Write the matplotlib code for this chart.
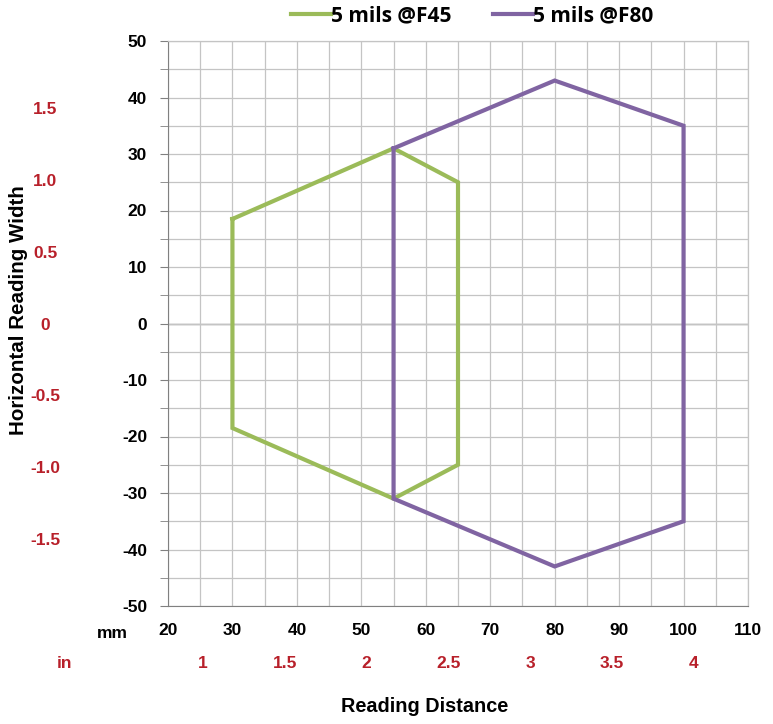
import matplotlib
matplotlib.use("Agg")
import matplotlib.pyplot as plt
from matplotlib.lines import Line2D

plt.rcParams["axes.unicode_minus"] = False

# Data (mm)
f45_x = [30, 55, 65, 65, 55, 30, 30]
f45_y = [18.5, 31, 25, -25, -31, -18.5, 18.5]
f80_x = [55, 80, 100, 100, 80, 55, 55]
f80_y = [31, 43, 35, -35, -43, -31, 31]
series_names = ["5 mils @F45", "5 mils @F80"]
x_ticks_mm = [20, 30, 40, 50, 60, 70, 80, 90, 100, 110]
y_ticks_mm = [-50, -40, -30, -20, -10, 0, 10, 20, 30, 40, 50]
x_ticks_in = [1, 1.5, 2, 2.5, 3, 3.5, 4]
x_ticks_in_labels = ["1", "1.5", "2", "2.5", "3", "3.5", "4"]
y_ticks_in = [-1.5, -1.0, -0.5, 0, 0.5, 1.0, 1.5]
y_ticks_in_labels = ["-1.5", "-1.0", "-0.5", "0", "0.5", "1.0", "1.5"]

GREEN = "#9BBB59"
PURPLE = "#8064A2"
RED = "#B8202A"
FONT = "Liberation Sans"
TS = 12.5

fig = plt.figure(figsize=(7.73, 7.24), dpi=100)
ax = fig.add_axes([168/773, 1-606/724, 580/773, 565/724])

ax.plot(f45_x, f45_y, color=GREEN, lw=3, solid_joinstyle="miter", zorder=3)
ax.plot(f80_x, f80_y, color=PURPLE, lw=3, solid_joinstyle="miter", zorder=4)

ax.set_xlim(20, 110)
ax.set_ylim(-50, 50)
ax.set_xticks(x_ticks_mm)
ax.set_xticks(range(25, 110, 10), minor=True)
ax.set_yticks(y_ticks_mm)
ax.set_yticks(range(-45, 50, 10), minor=True)
ax.grid(True, which="both", color="#c4c4c4", lw=0.9, zorder=0)
ax.axhline(0, color="#8c8c8c", lw=1.0, zorder=1)

for s in ["top", "right"]:
    ax.spines[s].set_color("#c4c4c4")
    ax.spines[s].set_linewidth(0.9)
ax.spines["left"].set_color("#808080")
ax.spines["bottom"].set_color("#808080")

ax.tick_params(axis="x", which="both", length=0, pad=12)
ax.tick_params(axis="y", which="both", direction="out", length=6, color="#808080", pad=9)
for lab in ax.get_xticklabels() + ax.get_yticklabels():
    lab.set_fontfamily(FONT)
    lab.set_fontweight("bold")
    lab.set_fontsize(TS)

# secondary inch axes
secx = ax.secondary_xaxis(-0.088, functions=(lambda v: v / 25.4, lambda v: v * 25.4))
secx.set_xticks(x_ticks_in, labels=x_ticks_in_labels)
secx.tick_params(length=0, pad=0, colors=RED)
secx.spines["bottom"].set_visible(False)
for lab in secx.get_xticklabels():
    lab.set_fontfamily(FONT); lab.set_fontweight("bold"); lab.set_fontsize(TS); lab.set_color(RED)

secy = ax.secondary_yaxis(-0.212, functions=(lambda v: v / 25.4, lambda v: v * 25.4))
secy.set_yticks(y_ticks_in, labels=y_ticks_in_labels)
secy.tick_params(length=0, pad=0, colors=RED)
secy.spines["left"].set_visible(False)
for lab in secy.get_yticklabels():
    lab.set_fontfamily(FONT); lab.set_fontweight("bold"); lab.set_fontsize(TS)
    lab.set_color(RED); lab.set_horizontalalignment("center")

fig.text(112/773, 1-634/724, "mm", ha="center", va="center", fontsize=TS,
         fontweight="bold", family=FONT, color="black")
fig.text(65/773, 1-663/724, "in", ha="center", va="center", fontsize=TS,
         fontweight="bold", family=FONT, color=RED)

fig.text(425/773, 1-706/724, "Reading Distance", ha="center", va="center",
         fontsize=14.3, fontweight="bold", family=FONT)
fig.text(19/773, 1-310/724, "Horizontal Reading Width", ha="center", va="center",
         rotation=90, fontsize=14.8, fontweight="bold", family=FONT)

handles = [Line2D([], [], color=GREEN, lw=3), Line2D([], [], color=PURPLE, lw=3)]
leg = fig.legend(handles, series_names, loc="center", bbox_to_anchor=(472/773, 1-16/724),
                 ncol=2, frameon=False, handlelength=1.9, handletextpad=0.0,
                 columnspacing=2.0, prop={"family": "Open Sans", "weight": "bold", "size": 15})

fig.savefig("out.png", dpi=100)
